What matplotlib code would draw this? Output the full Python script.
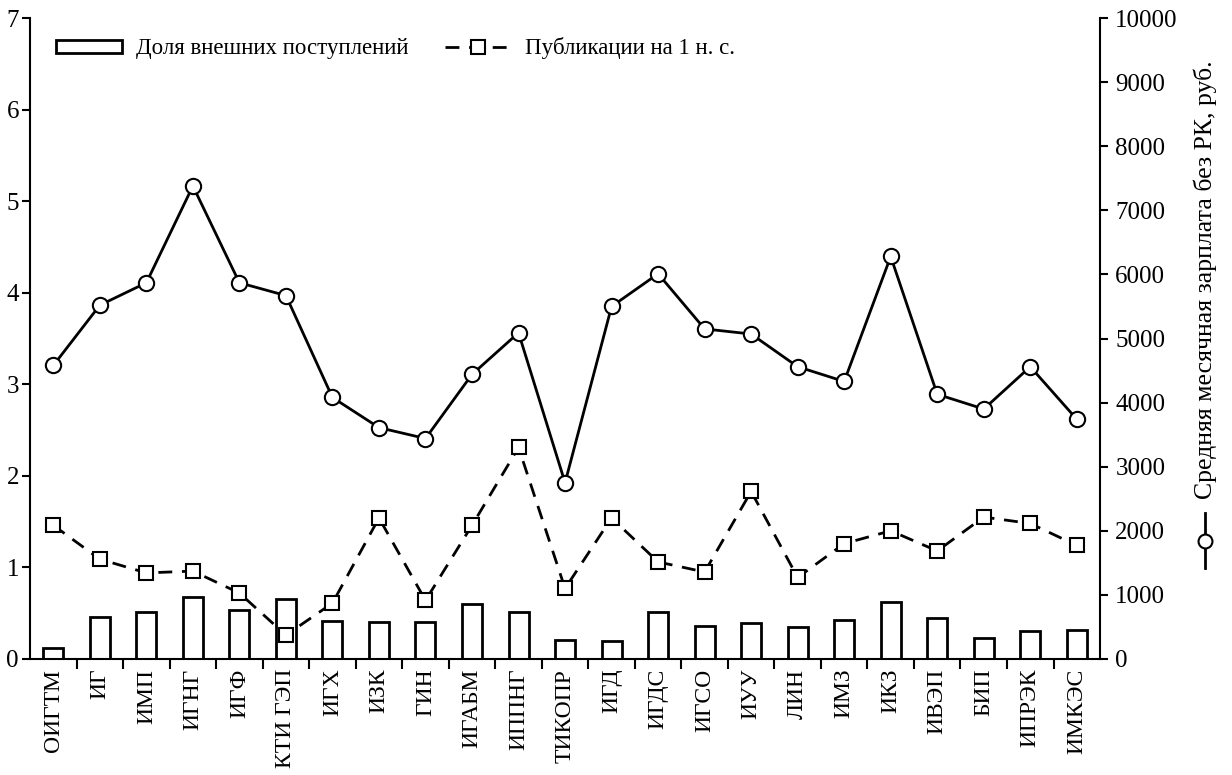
import matplotlib
matplotlib.use("Agg")
import matplotlib.pyplot as plt
from matplotlib.lines import Line2D
import numpy as np

plt.rcParams["font.family"] = ["Liberation Serif", "DejaVu Serif"]
plt.rcParams["font.size"] = 18

institutes = ["ОИГТМ", "ИГ", "ИМП", "ИГНГ", "ИГФ", "КТИ ГЭП", "ИГХ", "ИЗК",
              "ГИН", "ИГАБМ", "ИППНГ", "ТИКОПР", "ИГД", "ИГДС", "ИГСО", "ИУУ",
              "ЛИН", "ИМЗ", "ИКЗ", "ИВЭП", "БИП", "ИПРЭК", "ИМКЭС"]
external_share = [0.12, 0.46, 0.51, 0.68, 0.54, 0.65, 0.42, 0.40, 0.40, 0.60,
                  0.51, 0.21, 0.20, 0.51, 0.36, 0.39, 0.35, 0.43, 0.62, 0.45,
                  0.23, 0.31, 0.32]
publications = [1.46, 1.09, 0.94, 0.96, 0.72, 0.26, 0.61, 1.54, 0.64, 1.46,
                2.31, 0.77, 1.54, 1.06, 0.95, 1.83, 0.89, 1.26, 1.40, 1.18,
                1.55, 1.48, 1.24]
salary = [4580, 5520, 5870, 7380, 5870, 5670, 4080, 3610, 3440, 4440, 5090,
          2750, 5500, 6010, 5150, 5070, 4560, 4330, 6280, 4130, 3900, 4560,
          3740]

x = np.arange(len(institutes))

fig = plt.figure(figsize=(12.32, 7.75), dpi=100)
ax = fig.add_axes([0.0244, 0.1497, 0.8685, 0.827])

bars = ax.bar(x, external_share, width=0.43, facecolor="white",
              edgecolor="black", linewidth=2)
pub_line, = ax.plot(x, publications, color="black", linewidth=2,
                    linestyle=(0, (5, 3.5)), marker="s", markersize=10,
                    markerfacecolor="white", markeredgecolor="black",
                    markeredgewidth=1.5)

ax.set_xlim(-0.5, len(institutes) - 0.5)
ax.set_ylim(0, 7)
ax.set_yticks(range(8))
ax.set_xticks(x)
ax.set_xticklabels(institutes, rotation=90, fontsize=17)
ax.set_xticks(x[:-1] + 0.5, minor=True)
ax.tick_params(axis="x", which="major", length=0, pad=7)
ax.tick_params(axis="x", which="minor", length=7, width=1.5, direction="out")
ax.tick_params(axis="y", length=6, width=1.5, direction="out", pad=2)
ax.spines["top"].set_visible(False)
ax.spines["right"].set_visible(False)
for s in ("left", "bottom"):
    ax.spines[s].set_linewidth(1.5)

ax2 = ax.twinx()
ax2.plot(x, salary, color="black", linewidth=2, marker="o", markersize=11,
         markerfacecolor="white", markeredgecolor="black", markeredgewidth=1.5)
ax2.set_ylim(0, 10000)
ax2.set_yticks(range(0, 10001, 1000))
ax2.tick_params(axis="y", length=6, width=1.5, direction="out", pad=5)
ax2.spines["top"].set_visible(False)
ax2.spines["right"].set_linewidth(1.5)
ax2.spines["left"].set_visible(False)
ax2.spines["bottom"].set_visible(False)

ax.legend([bars, pub_line],
          ["Доля внешних поступлений", "Публикации на 1 н. с."],
          loc="center left", bbox_to_anchor=(0.024, 0.953), ncol=2,
          frameon=False, handlelength=2.9, handleheight=0.5,
          columnspacing=1.6, handletextpad=0.6, fontsize=16.5,
          borderaxespad=0, borderpad=0)

# vertical legend key for the right axis
fig.text(0.978, 0.356, "Средняя месячная зарплата без РК, руб.", rotation=90,
         ha="center", va="bottom", fontsize=18.5)
fig.add_artist(Line2D([0.978, 0.978], [0.267, 0.338], color="black",
                      linewidth=2, transform=fig.transFigure))
fig.add_artist(Line2D([0.978], [0.302], color="black", marker="o",
                      markersize=10, markerfacecolor="white",
                      markeredgewidth=1.5, transform=fig.transFigure))

fig.savefig("out.png", dpi=100)
